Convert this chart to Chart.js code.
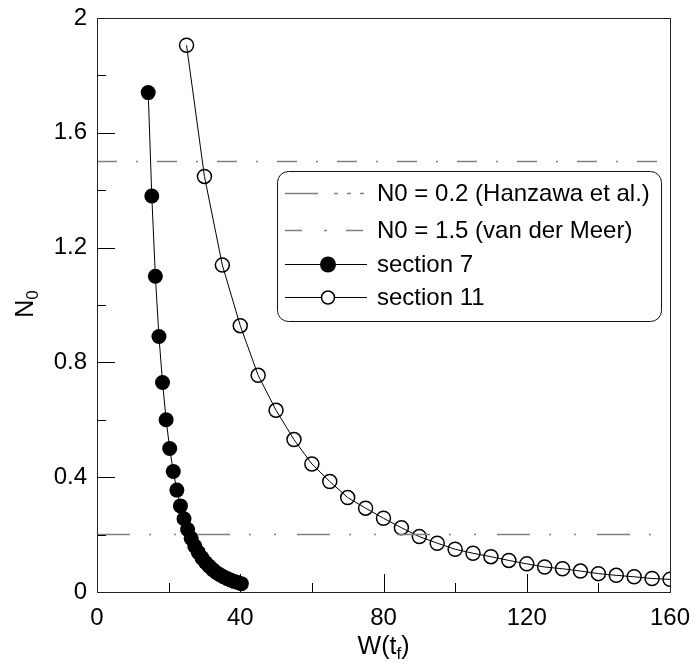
<!DOCTYPE html>
<html>
<head>
<meta charset="utf-8">
<script src="https://cdn.jsdelivr.net/npm/chart.js@4/dist/chart.umd.min.js"></script>
<style>
  html, body { margin: 0; padding: 0; background: #fff; }
  #wrap { width: 697px; height: 666px; }
</style>
</head>
<body>
<div id="wrap"><canvas id="c" width="697" height="666"></canvas></div>
<script>
// section 7 (filled circles)
const sec7W = [14.3, 15.3, 16.3, 17.3, 18.3, 19.3, 20.3, 21.3, 22.3, 23.3, 24.3, 25.3, 26.3, 27.3,
               28.3, 29.3, 30.3, 31.3, 32.3, 33.3, 34.3, 35.3, 36.3, 37.3, 38.3, 39.3, 40.3];
const sec7N = [1.74, 1.38, 1.10, 0.89, 0.73, 0.60, 0.50, 0.42, 0.355, 0.30, 0.255, 0.218, 0.187, 0.160,
               0.138, 0.119, 0.103, 0.090, 0.078, 0.068, 0.060, 0.053, 0.047, 0.042, 0.037, 0.033, 0.029];

// section 11 (open circles)
const sec11W = [25, 30, 35, 40, 45, 50, 55, 60, 65, 70, 75, 80, 85, 90, 95, 100, 105, 110,
                115, 120, 125, 130, 135, 140, 145, 150, 155, 160];
const sec11N = [1.905, 1.448, 1.139, 0.928, 0.755, 0.633, 0.531, 0.446, 0.385, 0.329, 0.292, 0.257,
                0.224, 0.193, 0.170, 0.149, 0.135, 0.123, 0.110, 0.098, 0.087, 0.081, 0.073,
                0.064, 0.058, 0.053, 0.047, 0.044];

// reference levels
const refHanzawa = 0.2;
const refMeer = 1.5;
const xRange = [0, 160];
const yRange = [0, 2];

const FONT = '"Liberation Sans", Arial, Helvetica, sans-serif';
const GREY = '#808080';

const toPts = (xs, ys) => xs.map((x, i) => ({ x: x, y: ys[i] }));

// frame, inward ticks, axis titles and legend box
const decor = {
    id: 'decor',
    afterDatasetsDraw(chart) {
        const { ctx, chartArea: a, scales } = chart;
        ctx.save();
        ctx.strokeStyle = '#000';
        ctx.lineWidth = 1;
        ctx.setLineDash([]);
        ctx.beginPath();

        // x ticks
        for (let v = xRange[0]; v <= xRange[1]; v += 20) {
            const px = Math.round(scales.x.getPixelForValue(v)) + 0.5;
            const len = (v % 40 === 0) ? 18 : 9;
            ctx.moveTo(px, a.bottom);
            ctx.lineTo(px, a.bottom - len);
        }
        // y ticks
        for (let k = 0; k <= 10; k++) {
            const py = Math.round(scales.y.getPixelForValue(k * 0.2)) + 0.5;
            const len = (k % 2 === 0) ? 18 : 9;
            ctx.moveTo(a.left, py);
            ctx.lineTo(a.left + len, py);
        }
        ctx.stroke();

        ctx.strokeStyle = '#222';
        ctx.strokeRect(Math.round(a.left) + 0.5, Math.round(a.top) + 0.5,
            Math.round(a.right - a.left), Math.round(a.bottom - a.top));
        ctx.restore();
    },
    afterDraw(chart) {
        const { ctx, chartArea: a } = chart;
        ctx.save();
        ctx.fillStyle = '#000';

        // x title: W(t_f)
        const cx = (a.left + a.right) / 2;
        ctx.font = '25px ' + FONT;
        const w1 = ctx.measureText('W(t').width;
        ctx.font = '17px ' + FONT;
        const w2 = ctx.measureText('f').width;
        ctx.font = '25px ' + FONT;
        const w3 = ctx.measureText(')').width;
        let x0 = cx - (w1 + w2 + w3) / 2;
        ctx.textBaseline = 'alphabetic';
        ctx.textAlign = 'left';
        ctx.fillText('W(t', x0, 654);
        ctx.font = '17px ' + FONT;
        ctx.fillText('f', x0 + w1, 659);
        ctx.font = '25px ' + FONT;
        ctx.fillText(')', x0 + w1 + w2, 654);

        // y title: N_0
        ctx.save();
        ctx.translate(33, 304);
        ctx.rotate(-Math.PI / 2);
        ctx.font = '25px ' + FONT;
        const n1 = ctx.measureText('N').width;
        ctx.font = '17px ' + FONT;
        const n2 = ctx.measureText('0').width;
        const s = -(n1 + n2) / 2;
        ctx.font = '25px ' + FONT;
        ctx.fillText('N', s, 0);
        ctx.font = '17px ' + FONT;
        ctx.fillText('0', s + n1, 5);
        ctx.restore();

        // legend
        const L = 277, T = 171, R = 661, B = 321;
        ctx.beginPath();
        ctx.roundRect(L + 0.5, T + 0.5, R - L, B - T, 11);
        ctx.fillStyle = '#fff';
        ctx.fill();
        ctx.strokeStyle = '#111';
        ctx.lineWidth = 1;
        ctx.stroke();

        const rows = [
            { text: 'N0 = 0.2 (Hanzawa et al.)', y: 193, dash: [33, 16, 4, 9, 4, 9, 4, 10], color: GREY },
            { text: 'N0 = 1.5 (van der Meer)', y: 230, dash: [17, 22, 3, 19, 17], color: GREY },
            { text: 'section 7', y: 264, dash: [], color: '#000', mark: 'fill' },
            { text: 'section 11', y: 297, dash: [], color: '#000', mark: 'open' }
        ];
        rows.forEach(r => {
            ctx.beginPath();
            ctx.setLineDash(r.dash);
            ctx.strokeStyle = r.color;
            ctx.lineWidth = r.mark ? 1 : 1.5;
            ctx.moveTo(285, r.y + 0.5);
            ctx.lineTo(367, r.y + 0.5);
            ctx.stroke();
            ctx.setLineDash([]);
            if (r.mark === 'fill') {
                ctx.beginPath();
                ctx.arc(328, r.y + 0.5, 8, 0, Math.PI * 2);
                ctx.fillStyle = '#000';
                ctx.fill();
            } else if (r.mark === 'open') {
                ctx.beginPath();
                ctx.arc(328, r.y + 0.5, 6.5, 0, Math.PI * 2);
                ctx.fillStyle = '#fff';
                ctx.fill();
                ctx.strokeStyle = '#000';
                ctx.lineWidth = 1.5;
                ctx.stroke();
            }
            ctx.fillStyle = '#000';
            ctx.font = '24px ' + FONT;
            ctx.textBaseline = 'middle';
            ctx.fillText(r.text, 377, r.y + 1);
        });
        ctx.restore();
    }
};

new Chart(document.getElementById('c'), {
    type: 'scatter',
    data: {
        datasets: [
            {
                label: 'N0 = 0.2 (Hanzawa et al.)',
                data: toPts(xRange, [refHanzawa, refHanzawa]),
                showLine: true,
                borderColor: GREY,
                borderWidth: 1.5,
                borderDash: [33, 19, 2, 23, 2, 21],
                pointRadius: 0
            },
            {
                label: 'N0 = 1.5 (van der Meer)',
                data: toPts(xRange, [refMeer, refMeer]),
                showLine: true,
                borderColor: GREY,
                borderWidth: 1.5,
                borderDash: [20, 19, 2, 19],
                pointRadius: 0
            },
            {
                label: 'section 7',
                data: toPts(sec7W, sec7N),
                showLine: true,
                borderColor: '#000',
                borderWidth: 1,
                pointRadius: 7.5,
                pointBackgroundColor: '#000',
                pointBorderColor: '#000',
                pointBorderWidth: 0
            },
            {
                label: 'section 11',
                data: toPts(sec11W, sec11N),
                showLine: true,
                borderColor: '#000',
                borderWidth: 1,
                pointRadius: 7,
                pointBackgroundColor: 'rgba(0,0,0,0)',
                pointBorderColor: '#000',
                pointBorderWidth: 1.5
            }
        ]
    },
    options: {
        responsive: false,
        animation: false,
        layout: { padding: { left: 0, top: 18, right: 27, bottom: 0 } },
        plugins: {
            legend: { display: false },
            tooltip: { enabled: false }
        },
        scales: {
            x: {
                type: 'linear',
                min: xRange[0],
                max: xRange[1],
                grid: { display: false, drawTicks: false },
                border: { display: false },
                ticks: {
                    stepSize: 20,
                    padding: 12,
                    color: '#000',
                    font: { family: FONT, size: 24 },
                    maxRotation: 0,
                    autoSkip: false,
                    callback: v => (v % 40 === 0 ? String(v) : '')
                },
                afterFit: scale => {
                    scale.height = 74;
                    scale.paddingLeft = 0;
                    scale.paddingRight = 0;
                }
            },
            y: {
                type: 'linear',
                min: yRange[0],
                max: yRange[1],
                grid: { display: false, drawTicks: false },
                border: { display: false },
                ticks: {
                    stepSize: 0.2,
                    padding: 10,
                    color: '#000',
                    font: { family: FONT, size: 24 },
                    autoSkip: false,
                    callback: v => (Math.round(v * 10) % 4 === 0 ? String(Math.round(v * 10) / 10) : '')
                },
                afterFit: scale => {
                    scale.width = 97;
                    scale.paddingTop = 0;
                    scale.paddingBottom = 0;
                }
            }
        }
    },
    plugins: [decor]
});
</script>
</body>
</html>
